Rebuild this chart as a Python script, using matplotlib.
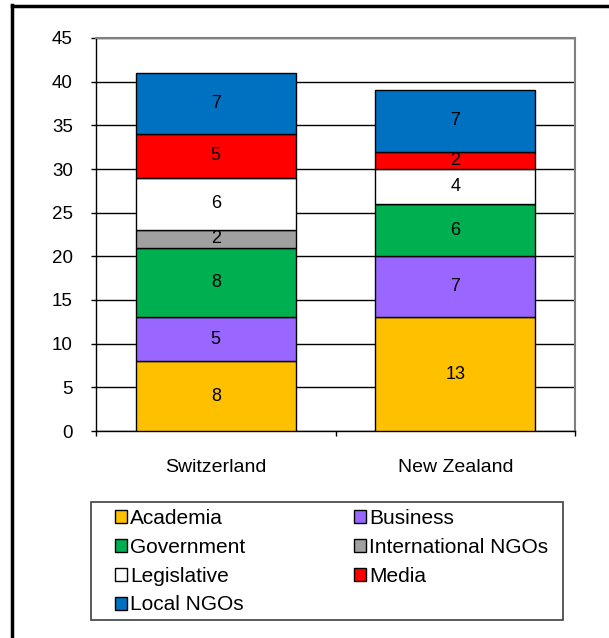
import numpy as np
import matplotlib.pyplot as plt
from matplotlib.lines import Line2D
from matplotlib.patches import Patch, Rectangle

plt.rcParams['font.family'] = ['Liberation Sans', 'DejaVu Sans']

### Data
countries = ['Switzerland', 'New Zealand']
sectors = ['Academia', 'Business', 'Government', 'International NGOs',
           'Legislative', 'Media', 'Local NGOs']
academia = [8, 13]
business = [5, 7]
government = [8, 6]
intl_ngos = [2, 0]
legislative = [6, 4]
media = [5, 2]
local_ngos = [7, 7]
series = [academia, business, government, intl_ngos, legislative, media, local_ngos]
colors = ['#FFC000', '#9966FF', '#00B050', '#A0A0A0', '#FFFFFF', '#FF0000', '#0070C0']

W, H = 609, 638

### Figure
fig = plt.figure(figsize=(W/100, H/100), dpi=100)
ax = fig.add_axes([96/W, 1-431/H, 479/W, 393/H])

x = np.arange(len(countries))
bottom = np.zeros(len(countries))
for vals, col in zip(series, colors):
    vals = np.array(vals, dtype=float)
    bars = ax.bar(x, vals, 0.667, bottom=bottom, color=col,
                  edgecolor='black', linewidth=1.0, zorder=3)
    for b, v, b0 in zip(bars, vals, bottom):
        if v > 0:
            ax.text(b.get_x() + b.get_width()/2, b0 + v/2, '%d' % v,
                    ha='center', va='center', fontsize=13, zorder=4)
    bottom += vals

ax.set_xlim(-0.5, 1.5)
ax.set_ylim(0, 45)
ax.set_yticks(np.arange(0, 46, 5))
ax.tick_params(axis='y', labelsize=13.5, direction='out', length=3.6,
               width=1, pad=13)
ax.yaxis.grid(True, color='black', linewidth=1.0, zorder=0)

# category boundaries as ticks, names as minor labels
ax.set_xticks([-0.5, 0.5, 1.5])
ax.set_xticklabels([])
ax.tick_params(axis='x', which='major', direction='out', length=3.6, width=1)
ax.set_xticks(x, minor=True)
ax.set_xticklabels(countries, minor=True)
ax.tick_params(axis='x', which='minor', length=0, labelsize=14, pad=20)

for side in ['top', 'right']:
    ax.spines[side].set_color('#808080')
    ax.spines[side].set_linewidth(1.5)
for side in ['left', 'bottom']:
    ax.spines[side].set_color('black')
    ax.spines[side].set_linewidth(1.0)

### Legend (reordered so that it reads across rows)
order = [0, 2, 4, 6, 1, 3, 5]
handles = [Patch(facecolor=colors[i], edgecolor='black', linewidth=1.0) for i in order]
labels = [sectors[i] for i in order]
leg = fig.legend(handles, labels, ncol=2, loc='upper left',
                 bbox_to_anchor=(115/W, 1-509/H), fontsize=15, frameon=False,
                 handlelength=0.58, handleheight=0.58, handletextpad=0.15,
                 labelspacing=0.47, borderaxespad=0, borderpad=0,
                 columnspacing=5.2)
fig.add_artist(Rectangle((91/W, 1-620/H), 472/W, 118/H, fill=False,
                         edgecolor='#404040', linewidth=1.2,
                         transform=fig.transFigure))

### Outer border (left and top only visible)
fig.add_artist(Line2D([12/W, 12/W], [0, 1-5/H], color='black',
                      linewidth=2.5, transform=fig.transFigure))
fig.add_artist(Line2D([12/W, 1], [1-6/H, 1-6/H], color='black',
                      linewidth=2.5, transform=fig.transFigure))

plt.savefig('out.png', dpi=100)
